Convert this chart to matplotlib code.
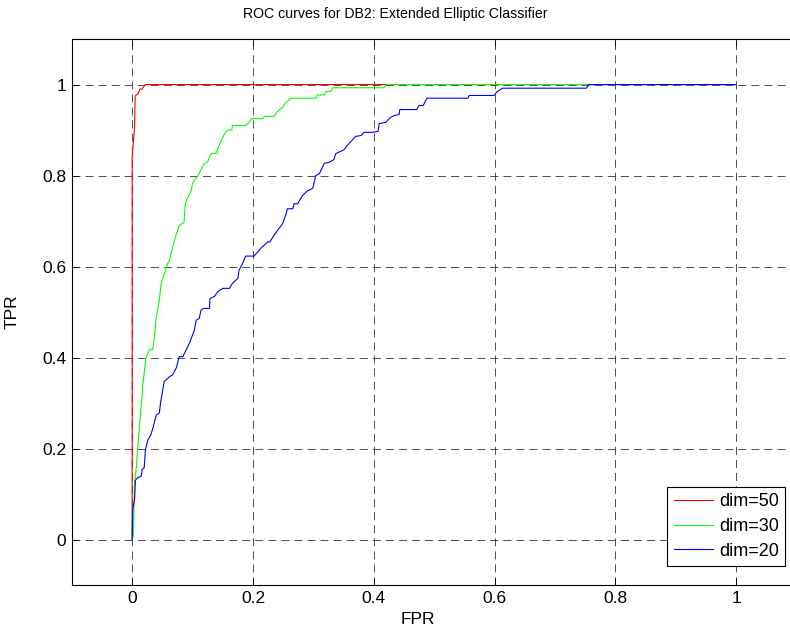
import matplotlib
matplotlib.use('Agg')
import matplotlib.pyplot as plt

plt.rcParams['font.family'] = ['Liberation Sans', 'DejaVu Sans']
plt.rcParams['lines.scale_dashes'] = False

# courbes ROC
fpr_50 = [0, 0, 0.004, 0.005, 0.010, 0.013, 0.016, 0.022, 1.0]
tpr_50 = [0, 0.84, 0.906, 0.975, 0.98, 0.99, 0.99, 1.0, 1.0]

fpr_30 = [0, 0.002, 0.004, 0.007, 0.009, 0.013, 0.018, 0.023, 0.029, 0.034, 0.037,
          0.040, 0.045, 0.048, 0.059, 0.062, 0.070, 0.078, 0.086, 0.088, 0.098,
          0.100, 0.109, 0.119, 0.125, 0.129, 0.132, 0.139, 0.144, 0.154, 0.160,
          0.165, 0.166, 0.188, 0.194, 0.197, 0.216, 0.219, 0.235, 0.240, 0.249,
          0.255, 0.263, 0.304, 0.307, 0.318, 0.321, 0.329, 0.332, 0.417, 0.421, 1.0]
tpr_30 = [0, 0.007, 0.125, 0.16, 0.197, 0.263, 0.344, 0.40, 0.418, 0.418, 0.446,
          0.49, 0.526, 0.563, 0.607, 0.614, 0.658, 0.69, 0.697, 0.739, 0.768,
          0.783, 0.80, 0.826, 0.83, 0.844, 0.849, 0.849, 0.866, 0.895, 0.90,
          0.90, 0.91, 0.91, 0.917, 0.925, 0.925, 0.93, 0.93, 0.94, 0.95,
          0.961, 0.97, 0.97, 0.977, 0.977, 0.985, 0.985, 0.993, 0.993, 1.0, 1.0]

fpr_20 = [0, 0, 0.001, 0.004, 0.0055, 0.009, 0.015, 0.0165, 0.020, 0.022, 0.026,
          0.031, 0.035, 0.040, 0.045, 0.047, 0.053, 0.062, 0.067, 0.073, 0.078,
          0.084, 0.095, 0.103, 0.106, 0.111, 0.114, 0.118, 0.128, 0.129, 0.136,
          0.142, 0.150, 0.161, 0.166, 0.175, 0.177, 0.183, 0.188, 0.202, 0.213,
          0.221, 0.224, 0.228, 0.235, 0.241, 0.249, 0.255, 0.257, 0.266, 0.268,
          0.274, 0.282, 0.290, 0.299, 0.304, 0.310, 0.318, 0.326, 0.334, 0.337,
          0.351, 0.356, 0.370, 0.379, 0.384, 0.398, 0.407, 0.409, 0.420, 0.427,
          0.434, 0.442, 0.443, 0.471, 0.475, 0.482, 0.488, 0.556, 0.558, 0.599,
          0.604, 0.613, 0.752, 0.756, 1.0]
tpr_20 = [0, 0.004, 0.066, 0.088, 0.13, 0.136, 0.139, 0.154, 0.158, 0.197, 0.219,
          0.23, 0.248, 0.274, 0.278, 0.30, 0.347, 0.358, 0.362, 0.377, 0.402,
          0.402, 0.432, 0.46, 0.482, 0.486, 0.504, 0.508, 0.508, 0.53, 0.534,
          0.545, 0.552, 0.552, 0.563, 0.574, 0.592, 0.607, 0.623, 0.623, 0.64,
          0.65, 0.654, 0.654, 0.669, 0.68, 0.694, 0.716, 0.727, 0.727, 0.738,
          0.738, 0.756, 0.766, 0.772, 0.80, 0.804, 0.827, 0.829, 0.835, 0.848,
          0.857, 0.866, 0.886, 0.888, 0.895, 0.895, 0.897, 0.914, 0.917, 0.927,
          0.932, 0.934, 0.945, 0.945, 0.954, 0.954, 0.97, 0.97, 0.976, 0.976,
          0.984, 0.992, 0.992, 1.0, 1.0]

ticks = [0, 0.2, 0.4, 0.6, 0.8, 1]
tick_labels = ['0', '0.2', '0.4', '0.6', '0.8', '1']

fig = plt.figure(figsize=(7.9, 6.35), dpi=100)
# l'axe dépasse à droite comme dans l'image d'origine (coupée)
ax = fig.add_axes([0.0908, 0.0787, 0.9175, 0.8598])

ax.plot(fpr_50, tpr_50, color='#ff0000', lw=0.8, label='dim=50')
ax.plot(fpr_30, tpr_30, color='#00ff00', lw=0.8, label='dim=30')
ax.plot(fpr_20, tpr_20, color='#0000ff', lw=0.8, label='dim=20')

ax.set_xlim(-0.1, 1.1)
ax.set_ylim(-0.1, 1.1)
ax.set_xticks(ticks)
ax.set_xticklabels(tick_labels)
ax.set_yticks(ticks)
ax.set_yticklabels(tick_labels)
ax.tick_params(direction='in', length=5, width=0.6, top=True, right=True,
               labelsize=12.5, pad=4)
ax.grid(True, color='#333333', linestyle=(0, (5.8, 3.6)), linewidth=0.6)
for s in ax.spines.values():
    s.set_linewidth(0.8)

ax.set_title('ROC curves for DB2: Extended Elliptic Classifier', fontsize=10.2,
             x=0.446, pad=15)
ax.set_xlabel('FPR', fontsize=12.5)
ax.xaxis.set_label_coords(0.478, -0.05)
ax.set_ylabel('TPR', fontsize=12.5)
ax.yaxis.set_label_coords(-0.072, 0.5)

leg = ax.legend(loc='lower right', bbox_to_anchor=(0.984, 0.035), fontsize=13,
                fancybox=False, framealpha=1, edgecolor='black',
                handlelength=2.2, borderpad=0.35, labelspacing=0.42,
                handletextpad=0.3, borderaxespad=0)
leg.get_frame().set_linewidth(0.8)

fig.savefig('out.png', dpi=100)
